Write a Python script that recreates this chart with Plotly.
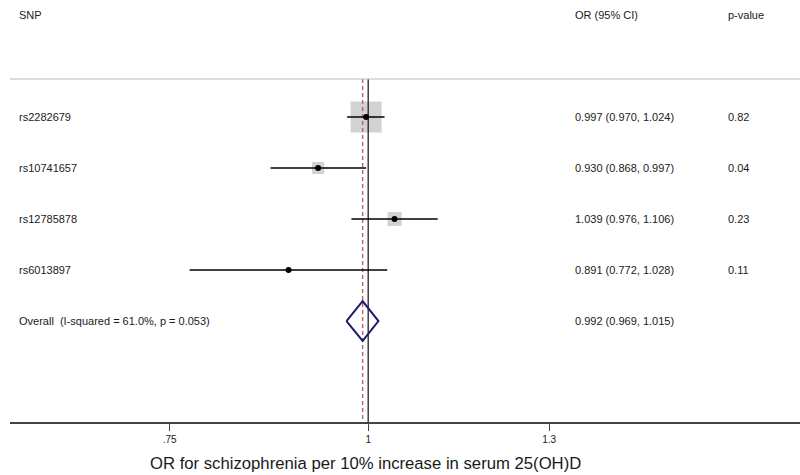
import numpy as np
import plotly.graph_objects as go

# ---- data ----
snps = ["rs2282679", "rs10741657", "rs12785878", "rs6013897"]
or_vals = [0.997, 0.930, 1.039, 0.891]
ci_low = [0.970, 0.868, 0.976, 0.772]
ci_high = [1.024, 0.997, 1.106, 1.028]
p_values = ["0.82", "0.04", "0.23", "0.11"]
weights = [73.0, 10.9, 14.9, 1.2]   # % weight (box area)

overall_label = "Overall  (I-squared = 61.0%, p = 0.053)"
overall_or = 0.992
overall_low = 0.969
overall_high = 1.015

tick_vals = [0.75, 1, 1.3]
tick_text = [".75", "1", "1.3"]
x_title = "OR for schizophrenia per 10% increase in serum 25(OH)D"

# ---- layout helpers ----
FONT = "Liberation Sans, Arial, sans-serif"
TXT = "#1a1a1a"
rows = list(range(1, len(snps) + 1))
overall_row = len(snps) + 1
y_top, y_bot = -1.294, 6.98
sep_y = 0.255
header_y = -1.0

def px_to_paper(px):
    return (px - 10) / 790.0

fig = go.Figure()

# boxes (area proportional to weight)
box_sizes = [31 * np.sqrt(w / weights[0]) for w in weights]
fig.add_trace(go.Scatter(
    x=or_vals, y=rows, mode="markers",
    marker=dict(symbol="square", size=box_sizes, color="#bfbfbf", line=dict(width=0)),
    hoverinfo="skip", showlegend=False))

# reference line at 1
fig.add_trace(go.Scatter(x=[1, 1], y=[sep_y, y_bot], mode="lines",
                         line=dict(color="#111111", width=1.2),
                         hoverinfo="skip", showlegend=False))
# overall dashed line
fig.add_trace(go.Scatter(x=[overall_or, overall_or], y=[sep_y, y_bot], mode="lines",
                         line=dict(color="#b8646a", width=1.4, dash="4px,3px"),
                         hoverinfo="skip", showlegend=False))

# CI lines
cx, cy = [], []
for lo, hi, r in zip(ci_low, ci_high, rows):
    cx += [lo, hi, None]
    cy += [r, r, None]
fig.add_trace(go.Scatter(x=cx, y=cy, mode="lines",
                         line=dict(color="#000000", width=1.5),
                         hoverinfo="skip", showlegend=False))

# point estimates
fig.add_trace(go.Scatter(x=or_vals, y=rows, mode="markers",
                         marker=dict(symbol="circle", size=6, color="#000000"),
                         hoverinfo="skip", showlegend=False))

# overall diamond
dh = 0.39
fig.add_trace(go.Scatter(
    x=[overall_low, overall_or, overall_high, overall_or, overall_low],
    y=[overall_row, overall_row - dh, overall_row, overall_row + dh, overall_row],
    mode="lines", line=dict(color="#1c1c6e", width=2),
    hoverinfo="skip", showlegend=False))

# separator line
fig.add_shape(type="line", xref="paper", yref="y", x0=0, x1=1, y0=sep_y, y1=sep_y,
              line=dict(color="#bbbbbb", width=1.2))

ann = []
def add_text(px, y, text):
    ann.append(dict(xref="paper", yref="y", x=px_to_paper(px), y=y, text=text,
                    showarrow=False, xanchor="left", yanchor="middle",
                    font=dict(family=FONT, size=11, color=TXT)))

# headers
add_text(17, header_y, "SNP")
add_text(573, header_y, "OR (95% CI)")
add_text(726, header_y, "p-value")

for s, o, lo, hi, p, r in zip(snps, or_vals, ci_low, ci_high, p_values, rows):
    add_text(17, r, s)
    add_text(573, r, f"{o:.3f} ({lo:.3f}, {hi:.3f})")
    add_text(726, r, p)

add_text(17, overall_row, overall_label)
add_text(573, overall_row, f"{overall_or:.3f} ({overall_low:.3f}, {overall_high:.3f})")

# axis title
ann.append(dict(xref="paper", yref="paper", x=px_to_paper(365), y=(422 - 463) / 422.0,
                text=x_title, showarrow=False, xanchor="center", yanchor="middle",
                font=dict(family=FONT, size=16.7, color=TXT)))

fig.update_layout(
    width=800, height=475,
    margin=dict(l=10, r=0, t=0, b=53),
    paper_bgcolor="white", plot_bgcolor="white",
    annotations=ann,
    xaxis=dict(type="log", range=[np.log10(0.595), np.log10(1.87)],
               tickvals=tick_vals, ticktext=tick_text,
               ticks="outside", ticklen=7, tickwidth=1.2, tickcolor="#444444",
               showline=True, linecolor="#444444", linewidth=1.5,
               showgrid=False, zeroline=False,
               tickfont=dict(family=FONT, size=10, color=TXT)),
    yaxis=dict(range=[y_bot, y_top], visible=False, showgrid=False, zeroline=False),
)

fig.write_html("out.html",
               config={"displayModeBar": False, "staticPlot": True},
               post_script="document.body.style.margin='0';document.body.style.overflow='hidden';")
